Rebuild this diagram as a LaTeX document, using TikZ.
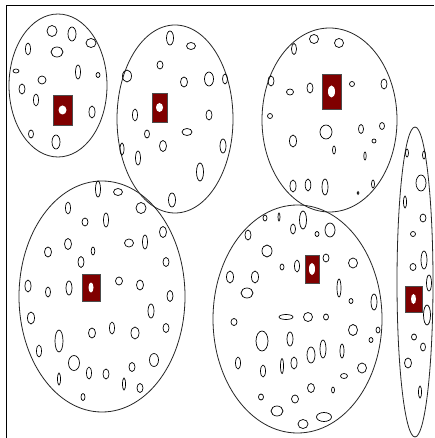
\documentclass[tikz,border=0pt]{standalone}
\begin{document}
\begin{tikzpicture}[x=1pt,y=-1pt,
  bigell/.style={draw=black!85,line width=0.8pt},
  smallell/.style={draw=black,line width=0.7pt},
  redbox/.style={draw=black!70,fill=darkred,line width=0.7pt,inner sep=0pt,rectangle},
  hole/.style={fill=white}]
\definecolor{darkred}{HTML}{800000}
\useasboundingbox (0,0) rectangle (434,438);
\fill[white] (0,0) rectangle (434,438);
% frame
\draw[line width=1pt] (6,438) -- (6,6) -- (434,6);
% big ellipses
\draw[bigell] (58,85.5) ellipse [x radius=49pt, y radius=71.5pt];
\draw[bigell] (175,119) ellipse [x radius=58pt, y radius=94pt];
\draw[bigell] (329.5,120) ellipse [x radius=67.5pt, y radius=92pt];
\draw[bigell] (102,296.5) ellipse [x radius=83pt, y radius=115.5pt];
\draw[bigell] (297.5,319) ellipse [x radius=84.5pt, y radius=114pt];
\draw[bigell] (415,282) ellipse [x radius=18pt, y radius=155pt];
% small ellipses
\foreach \x/\y/\a/\b in {
 52/31/5/5.5, 72/34/4/7, 91/43/5/4.5, 28/49/2.5/6, 57/52/6/5, 16/71/3/2,
 78/72/2.5/7, 98/75/2/2.5, 42/80/4/4, 22/89/3/5, 36/100/2.5/6, 92/112/3/6,
 31/134/2.5/4, 56/142/4/7,
 170/38/3.5/7, 191/46/4.5/3.5, 160/65/3/4, 127/76/4.5/6, 184/82/3.5/5,
 209/79/4.5/7, 225/79/2.5/5, 135/115/2.5/6, 209/115/3/5, 147/134/2.5/4,
 187/132/5/3.5, 163/146/3.5/5.5, 122/149/2/6, 223/146/3/7, 138/158/2.5/7,
 200/172/3.5/9, 172/200/3.5/7,
 314/39/4.5/4.5, 339/43/4.5/4.5, 294/49/2.5/5.5, 271/81/3/5, 290/92/3.5/3,
 310/88/3/5, 352/84/2.5/2.5, 384/84/3/5, 270/116/2.5/2.5, 326/132/6/7,
 361/129/2.5/4.5, 382/126/2.5/3.5, 293/141/3.5/6, 374/141/2/2, 334/150/1.5/4,
 365/156/1.2/4, 293/186/3/6, 308/185/2.8/6, 325/187/3/8, 373/184/1.5/4,
 358/193/1/1.5,
 98/189/2.5/8, 118/192/4.5/3.5, 68/208/2.5/6, 141/208/5/5.5, 85/222/3/4,
 106/220/2.5/7, 163/232/3.5/5.5, 48/252/3.5/5, 68/244/3.5/5.5, 129/243/4.5/4,
 145/242/2.5/7, 93/251/1.8/4, 81/262/3/5.5, 166/262/3/4.5, 28/286/3/6,
 48/292/2.5/5, 69/288/3/7, 119/281/3.5/4, 140/285/3.5/5, 170/296/3/5.5,
 31/318/3.5/6, 151/311/3/7, 92/333/3.5/5, 112/328/2.5/6, 135/333/4/6,
 166/328/3/4.5, 59/341/4/11, 39/351/2.5/6, 74/363/5.5/7.5, 154/360/4.5/6.5,
 132/367/3/4.5, 89/373/2.5/6, 106/374/3/5, 59/379/1.5/6, 124/384/1.5/6,
 140/388/3/4.5, 83/397/2/3.5,
 303/220/3.5/9, 279/217/1/4, 265/218/2/3, 293/229/2.5/5, 317/234/2/2.5,
 330/230/5/7, 248/235/3/5, 267/251/5/6, 282/267/2/3, 297/266/2.5/6,
 326/258/3/4, 353/263/4.5/5, 230/277/3.5/6, 255/277/3.5/6, 339/288/2/9,
 247/293/6/5, 351/301/2/2.5, 374/302/3/8, 286/317/7/2.5, 308/317/4.5/4.5,
 326/317/2.5/3, 234/322/3/3.5, 262/341/6/10, 290/339/3/7, 353/330/4.5/5.5,
 371/340/2/2.5, 378/330/2/3, 311/355/4/8, 323/349/3/9, 342/351/2/7,
 238/363/2.5/6, 263/371/2.5/6, 282/366/1.5/7.5, 294/363/3/6, 362/368/4.5/5,
 344/376/3.5/2.5, 311/388/3.5/4.5, 333/390/1.5/3, 261/397/2.5/3, 295/399/3.5/4,
 277/411/6/5, 324/417/7.5/4.5, 303/424/5/4.5,
 407/153/1.5/4, 424/155/1.5/4, 421/183/5/8, 405/202/1.5/6, 423/218/3/4,
 413/234/2.5/2.5, 424/260/3/9, 413/267/3/3.5, 429/283/2.5/8, 427/315/3.5/10,
 414/337/2.5/3, 423/347/2.5/4, 408/363/3.5/5, 420/392/1.5/6}
 \draw[smallell] (\x,\y) ellipse [x radius=\a pt, y radius=\b pt];
% red boxes with holes
\node (r1) [redbox,minimum width=19pt,minimum height=30pt] at (62.5,110) {};
\node (r2) [redbox,minimum width=15pt,minimum height=29pt] at (159.5,107.5) {};
\node (r3) [redbox,minimum width=19pt,minimum height=35pt] at (331.5,91.5) {};
\node (r4) [redbox,minimum width=18pt,minimum height=27pt] at (91,287.5) {};
\node (r5) [redbox,minimum width=14pt,minimum height=28pt] at (312,269) {};
\node (r6) [redbox,minimum width=17pt,minimum height=26pt] at (413.5,299) {};
\fill[hole] (r1.center) ellipse [x radius=4pt, y radius=4.5pt];
\fill[hole] (r2.center) ellipse [x radius=3.5pt, y radius=4.5pt];
\fill[hole] (r3.center) ellipse [x radius=3.5pt, y radius=6pt];
\fill[hole] (r4.center) ellipse [x radius=2.5pt, y radius=5pt];
\fill[hole] (r5.center) ellipse [x radius=3pt, y radius=6pt];
\fill[hole] (r6.center) ellipse [x radius=2.5pt, y radius=5pt];
\end{tikzpicture}
\end{document}
